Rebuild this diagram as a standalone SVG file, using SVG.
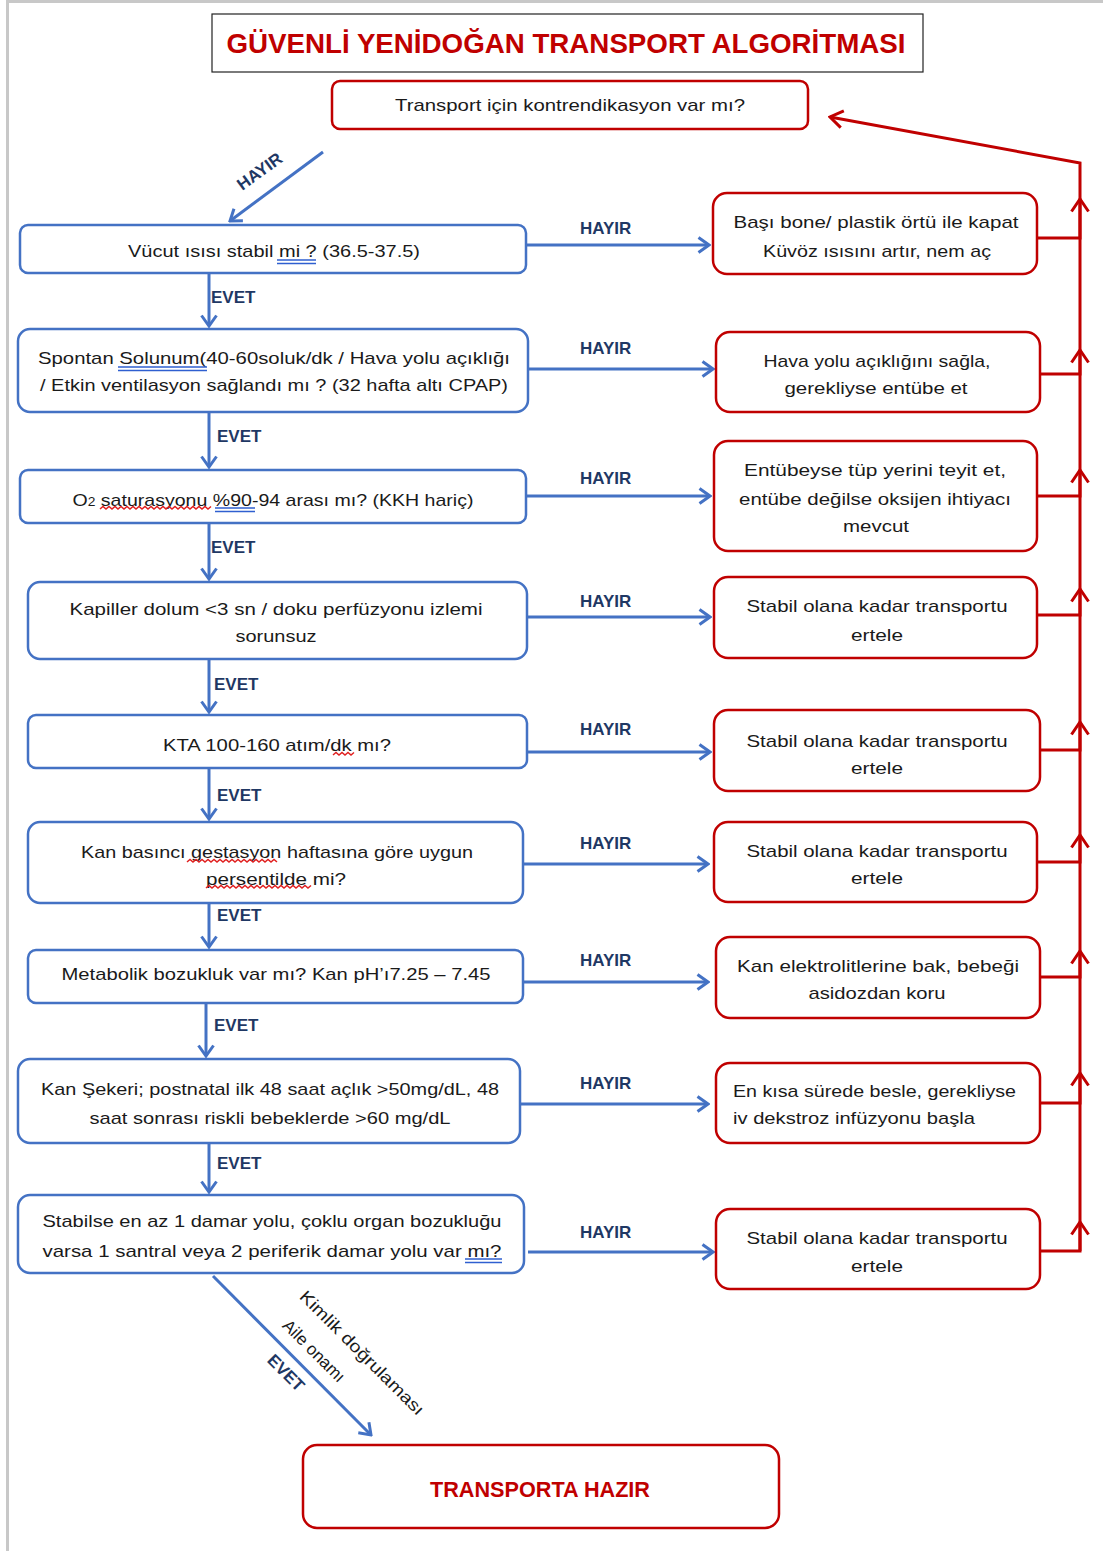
<svg xmlns="http://www.w3.org/2000/svg" width="1103" height="1551" viewBox="0 0 1103 1551">
<style>
.t{font-family:"Liberation Sans",Arial,sans-serif;font-size:17px;fill:#1a1a1a;text-anchor:middle}
.tl{text-anchor:start}
.lb{font-family:"Liberation Sans",Arial,sans-serif;font-size:17px;font-weight:bold;fill:#1f3864}
.bb{fill:#fff;stroke:#4472c4;stroke-width:2.5}
.rb{fill:#fff;stroke:#c00000;stroke-width:2.5}
.bl{fill:none;stroke:#4472c4;stroke-width:3}
.rl{fill:none;stroke:#c00000;stroke-width:3}
.du{stroke:#2f5fd0;stroke-width:1.7;fill:none}
.wv{stroke:#e02020;stroke-width:1.5;fill:none}
</style>
<defs>
<marker id="ab" viewBox="0 0 14 18" refX="12" refY="9" markerWidth="14" markerHeight="18" markerUnits="userSpaceOnUse" orient="auto"><path d="M1.5,1.5 L12,9 L1.5,16.5" fill="none" stroke="#4472c4" stroke-width="3"/></marker>
<marker id="ar" viewBox="0 0 16 20" refX="14" refY="10" markerWidth="16" markerHeight="20" markerUnits="userSpaceOnUse" orient="auto"><path d="M1.5,1.5 L14,10 L1.5,18.5" fill="none" stroke="#c00000" stroke-width="3"/></marker>
</defs>
<rect x="0" y="0" width="1103" height="1551" fill="#fff"/>
<rect x="6" y="0" width="3" height="1551" fill="#c8c8c8"/>
<rect x="6" y="0" width="1097" height="3" fill="#c8c8c8"/>

<g id="title">
<rect x="212" y="14" width="711" height="58" fill="#fff" stroke="#222" stroke-width="1.2"/>
<text x="566" y="53" style="font-family:'Liberation Sans',Arial,sans-serif;font-size:28px;font-weight:bold;fill:#c00000" text-anchor="middle" textLength="679" lengthAdjust="spacingAndGlyphs">GÜVENLİ YENİDOĞAN TRANSPORT ALGORİTMASI</text>
</g>

<g id="n0">
<rect class="rb" x="332" y="81" width="476" height="48" rx="8"/>
<text class="t" x="570" y="111" textLength="350" lengthAdjust="spacingAndGlyphs">Transport için kontrendikasyon var mı?</text>
</g>

<g id="connectors">
<path class="bl" d="M323,152 L230,221" marker-end="url(#ab)"/>
<text class="lb" transform="translate(263,176) rotate(-36)" text-anchor="middle">HAYIR</text>
<path class="bl" d="M209,273 V326" marker-end="url(#ab)"/>
<path class="bl" d="M209,412 V467" marker-end="url(#ab)"/>
<path class="bl" d="M209,523 V579" marker-end="url(#ab)"/>
<path class="bl" d="M209,659 V712" marker-end="url(#ab)"/>
<path class="bl" d="M209,768 V819" marker-end="url(#ab)"/>
<path class="bl" d="M209,903 V947" marker-end="url(#ab)"/>
<path class="bl" d="M206,1003 V1056" marker-end="url(#ab)"/>
<path class="bl" d="M209,1143 V1192" marker-end="url(#ab)"/>
<text class="lb" x="211" y="303">EVET</text>
<text class="lb" x="217" y="442">EVET</text>
<text class="lb" x="211" y="553">EVET</text>
<text class="lb" x="214" y="690">EVET</text>
<text class="lb" x="217" y="801">EVET</text>
<text class="lb" x="217" y="921">EVET</text>
<text class="lb" x="214" y="1031">EVET</text>
<text class="lb" x="217" y="1169">EVET</text>

<path class="bl" d="M526,245 H709" marker-end="url(#ab)"/>
<path class="bl" d="M528,369 H713" marker-end="url(#ab)"/>
<path class="bl" d="M526,496 H710" marker-end="url(#ab)"/>
<path class="bl" d="M527,617 H710" marker-end="url(#ab)"/>
<path class="bl" d="M527,752 H710" marker-end="url(#ab)"/>
<path class="bl" d="M523,864 H708" marker-end="url(#ab)"/>
<path class="bl" d="M523,982 H708" marker-end="url(#ab)"/>
<path class="bl" d="M520,1104 H708" marker-end="url(#ab)"/>
<path class="bl" d="M528,1252 H713" marker-end="url(#ab)"/>
<text class="lb" x="580" y="234">HAYIR</text>
<text class="lb" x="580" y="354">HAYIR</text>
<text class="lb" x="580" y="484">HAYIR</text>
<text class="lb" x="580" y="607">HAYIR</text>
<text class="lb" x="580" y="735">HAYIR</text>
<text class="lb" x="580" y="849">HAYIR</text>
<text class="lb" x="580" y="966">HAYIR</text>
<text class="lb" x="580" y="1089">HAYIR</text>
<text class="lb" x="580" y="1238">HAYIR</text>

<path class="rl" d="M1080,1251 V163 L830,117" marker-end="url(#ar)"/>
<path class="rl" d="M1037,238 H1080 V199" marker-end="url(#ar)"/>
<path class="rl" d="M1040,374 H1080 V350" marker-end="url(#ar)"/>
<path class="rl" d="M1037,496 H1080 V470" marker-end="url(#ar)"/>
<path class="rl" d="M1037,615 H1080 V589" marker-end="url(#ar)"/>
<path class="rl" d="M1040,750 H1080 V722" marker-end="url(#ar)"/>
<path class="rl" d="M1037,862 H1080 V835" marker-end="url(#ar)"/>
<path class="rl" d="M1040,977 H1080 V951" marker-end="url(#ar)"/>
<path class="rl" d="M1040,1103 H1080 V1073" marker-end="url(#ar)"/>
<path class="rl" d="M1040,1251 H1080 V1222" marker-end="url(#ar)"/>

<path class="bl" d="M213,1276 L371,1435" marker-end="url(#ab)"/>
<text class="lb" transform="translate(282,1377) rotate(45)" text-anchor="middle">EVET</text>
<text class="t" transform="translate(310,1355) rotate(45)">Aile onamı</text>
<text class="t" transform="translate(358,1357) rotate(45)" textLength="168" lengthAdjust="spacingAndGlyphs">Kimlik doğrulaması</text>
</g>

<g id="n1">
<rect class="bb" x="20" y="225" width="506" height="48" rx="8"/>
<text class="t" x="274" y="257" textLength="292" lengthAdjust="spacingAndGlyphs">Vücut ısısı stabil mi ? (36.5-37.5)</text>
<path class="du" d="M277,260 H316 M277,263.5 H316"/>
</g>
<g id="n2">
<rect class="bb" x="18" y="329" width="510" height="83" rx="12"/>
<text class="t" x="274" y="364" textLength="472" lengthAdjust="spacingAndGlyphs">Spontan Solunum(40-60soluk/dk / Hava yolu açıklığı</text>
<text class="t" x="274" y="391" textLength="468" lengthAdjust="spacingAndGlyphs">/ Etkin ventilasyon sağlandı mı ? (32 hafta altı CPAP)</text>
<path class="du" d="M118,367 H207 M118,370.5 H207"/>
</g>
<g id="n3">
<rect class="bb" x="20" y="470" width="506" height="53" rx="8"/>
<text class="t" x="273" y="506" textLength="401" lengthAdjust="spacingAndGlyphs">O<tspan font-size="12">2</tspan> saturasyonu %90-94 arası mı? (KKH hariç)</text>
<path class="du" d="M215,508 H255 M215,511.5 H255"/>
<path class="wv" d="M100,509 l3,-2.5 l3,2.5 l3,-2.5 l3,2.5 l3,-2.5 l3,2.5 l3,-2.5 l3,2.5 l3,-2.5 l3,2.5 l3,-2.5 l3,2.5 l3,-2.5 l3,2.5 l3,-2.5 l3,2.5 l3,-2.5 l3,2.5 l3,-2.5 l3,2.5 l3,-2.5 l3,2.5 l3,-2.5 l3,2.5 l3,-2.5 l3,2.5 l3,-2.5 l3,2.5 l3,-2.5 l3,2.5 l3,-2.5 l3,2.5 l3,-2.5 l3,2.5 l3,-2.5 l3,2.5 l3,-2.5"/>
</g>
<g id="n4">
<rect class="bb" x="28" y="582" width="499" height="77" rx="12"/>
<text class="t" x="276" y="615" textLength="413" lengthAdjust="spacingAndGlyphs">Kapiller dolum &lt;3 sn / doku perfüzyonu izlemi</text>
<text class="t" x="276" y="642" textLength="81" lengthAdjust="spacingAndGlyphs">sorunsuz</text>
</g>
<g id="n5">
<rect class="bb" x="28" y="715" width="499" height="53" rx="8"/>
<text class="t" x="277" y="751" textLength="228" lengthAdjust="spacingAndGlyphs">KTA 100-160 atım/dk mı?</text>
<path class="wv" d="M333,755 l3,-2.5 l3,2.5 l3,-2.5 l3,2.5 l3,-2.5 l3,2.5 l3,-2.5"/>
</g>
<g id="n6">
<rect class="bb" x="28" y="822" width="495" height="81" rx="12"/>
<text class="t" x="277" y="858" textLength="392" lengthAdjust="spacingAndGlyphs">Kan basıncı gestasyon haftasına göre uygun</text>
<text class="t" x="276" y="885" textLength="140" lengthAdjust="spacingAndGlyphs">persentilde mi?</text>
<path class="wv" d="M187,862 l3,-2.5 l3,2.5 l3,-2.5 l3,2.5 l3,-2.5 l3,2.5 l3,-2.5 l3,2.5 l3,-2.5 l3,2.5 l3,-2.5 l3,2.5 l3,-2.5 l3,2.5 l3,-2.5 l3,2.5 l3,-2.5 l3,2.5 l3,-2.5 l3,2.5 l3,-2.5 l3,2.5 l3,-2.5 l3,2.5 l3,-2.5 l3,2.5 l3,-2.5 l3,2.5 l3,-2.5 l3,2.5"/>
<path class="wv" d="M206,888 l3,-2.5 l3,2.5 l3,-2.5 l3,2.5 l3,-2.5 l3,2.5 l3,-2.5 l3,2.5 l3,-2.5 l3,2.5 l3,-2.5 l3,2.5 l3,-2.5 l3,2.5 l3,-2.5 l3,2.5 l3,-2.5 l3,2.5 l3,-2.5 l3,2.5 l3,-2.5 l3,2.5 l3,-2.5 l3,2.5 l3,-2.5 l3,2.5 l3,-2.5 l3,2.5 l3,-2.5 l3,2.5 l3,-2.5 l3,2.5 l3,-2.5 l3,2.5 l3,-2.5"/>
</g>
<g id="n7">
<rect class="bb" x="28" y="950" width="495" height="53" rx="8"/>
<text class="t" x="276" y="980" textLength="429" lengthAdjust="spacingAndGlyphs">Metabolik bozukluk var mı? Kan pH’ı7.25 – 7.45</text>
</g>
<g id="n8">
<rect class="bb" x="18" y="1059" width="502" height="84" rx="12"/>
<text class="t" x="270" y="1095" textLength="458" lengthAdjust="spacingAndGlyphs">Kan Şekeri; postnatal ilk 48 saat açlık &gt;50mg/dL, 48</text>
<text class="t" x="270" y="1124" textLength="361" lengthAdjust="spacingAndGlyphs">saat sonrası riskli bebeklerde &gt;60 mg/dL</text>
</g>
<g id="n9">
<rect class="bb" x="18" y="1195" width="506" height="78" rx="12"/>
<text class="t" x="272" y="1227" textLength="459" lengthAdjust="spacingAndGlyphs">Stabilse en az 1 damar yolu, çoklu organ bozukluğu</text>
<text class="t" x="272" y="1257" textLength="459" lengthAdjust="spacingAndGlyphs">varsa 1 santral veya 2 periferik damar yolu var mı?</text>
<path class="du" d="M465,1259 H502 M465,1262.5 H502"/>
</g>

<g id="r1">
<rect class="rb" x="713" y="193" width="324" height="81" rx="14"/>
<text class="t" x="876" y="228" textLength="285" lengthAdjust="spacingAndGlyphs">Başı bone/ plastik örtü ile kapat</text>
<text class="t" x="877" y="257" textLength="228" lengthAdjust="spacingAndGlyphs">Küvöz ısısını artır, nem aç</text>
</g>
<g id="r2">
<rect class="rb" x="716" y="332" width="324" height="80" rx="14"/>
<text class="t" x="877" y="367" textLength="227" lengthAdjust="spacingAndGlyphs">Hava yolu açıklığını sağla,</text>
<text class="t" x="876" y="394" textLength="183" lengthAdjust="spacingAndGlyphs">gerekliyse entübe et</text>
</g>
<g id="r3">
<rect class="rb" x="714" y="441" width="323" height="110" rx="14"/>
<text class="t" x="875" y="476" textLength="262" lengthAdjust="spacingAndGlyphs">Entübeyse tüp yerini teyit et,</text>
<text class="t" x="875" y="505" textLength="272" lengthAdjust="spacingAndGlyphs">entübe değilse oksijen ihtiyacı</text>
<text class="t" x="876" y="532" textLength="66" lengthAdjust="spacingAndGlyphs">mevcut</text>
</g>
<g id="r4">
<rect class="rb" x="714" y="577" width="323" height="81" rx="14"/>
<text class="t" x="877" y="612" textLength="261" lengthAdjust="spacingAndGlyphs">Stabil olana kadar transportu</text>
<text class="t" x="877" y="641" textLength="52" lengthAdjust="spacingAndGlyphs">ertele</text>
</g>
<g id="r5">
<rect class="rb" x="714" y="710" width="326" height="81" rx="14"/>
<text class="t" x="877" y="747" textLength="261" lengthAdjust="spacingAndGlyphs">Stabil olana kadar transportu</text>
<text class="t" x="877" y="774" textLength="52" lengthAdjust="spacingAndGlyphs">ertele</text>
</g>
<g id="r6">
<rect class="rb" x="714" y="822" width="323" height="80" rx="14"/>
<text class="t" x="877" y="857" textLength="261" lengthAdjust="spacingAndGlyphs">Stabil olana kadar transportu</text>
<text class="t" x="877" y="884" textLength="52" lengthAdjust="spacingAndGlyphs">ertele</text>
</g>
<g id="r7">
<rect class="rb" x="716" y="937" width="324" height="81" rx="14"/>
<text class="t" x="878" y="972" textLength="282" lengthAdjust="spacingAndGlyphs">Kan elektrolitlerine bak, bebeği</text>
<text class="t" x="877" y="999" textLength="137" lengthAdjust="spacingAndGlyphs">asidozdan koru</text>
</g>
<g id="r8">
<rect class="rb" x="716" y="1063" width="324" height="80" rx="14"/>
<text class="t tl" x="733" y="1097" textLength="283" lengthAdjust="spacingAndGlyphs">En kısa sürede besle, gerekliyse</text>
<text class="t tl" x="733" y="1124" textLength="242" lengthAdjust="spacingAndGlyphs">iv dekstroz infüzyonu başla</text>
</g>
<g id="r9">
<rect class="rb" x="716" y="1209" width="324" height="80" rx="14"/>
<text class="t" x="877" y="1244" textLength="261" lengthAdjust="spacingAndGlyphs">Stabil olana kadar transportu</text>
<text class="t" x="877" y="1272" textLength="52" lengthAdjust="spacingAndGlyphs">ertele</text>
</g>

<g id="end">
<rect class="rb" x="303" y="1445" width="476" height="83" rx="14"/>
<text x="540" y="1497" style="font-family:'Liberation Sans',Arial,sans-serif;font-size:22px;font-weight:bold;fill:#c00000" text-anchor="middle" textLength="220" lengthAdjust="spacingAndGlyphs">TRANSPORTA HAZIR</text>
</g>
</svg>
